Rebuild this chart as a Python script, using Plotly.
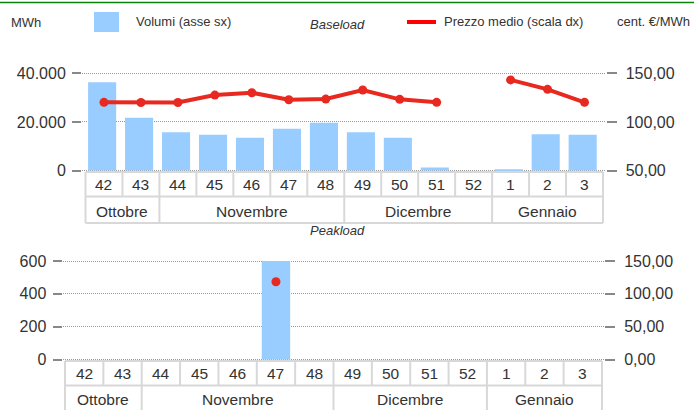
import plotly.graph_objects as go

# ---------------- data ----------------
weeks = ["42", "43", "44", "45", "46", "47", "48", "49", "50", "51", "52", "1", "2", "3"]
week_months = ["Ottobre", "Ottobre",
               "Novembre", "Novembre", "Novembre", "Novembre", "Novembre",
               "Dicembre", "Dicembre", "Dicembre", "Dicembre",
               "Gennaio", "Gennaio", "Gennaio"]
base_volume = [36300, 21700, 15750, 14700, 13450, 17150, 19700, 15750, 13450, 1250, 0, 300, 14900, 14700]
base_price = [120.1, 120.0, 120.0, 127.6, 130.0, 122.8, 123.5, 132.8, 123.2, 120.1, None, 143.2, 133.5, 120.1]
peak_volume = [None, None, None, None, None, 600, None, None, None, None, None, None, None, None]
peak_price = [None, None, None, None, None, 118.4, None, None, None, None, None, None, None, None]

# ---------------- styling helpers ----------------
W, H = 694, 410
FONT = "Liberation Sans, Arial, sans-serif"
TXT = "#333333"
BAR = "#99ccff"
LINE = "#e8291f"
BORDER = "#d8d8d8"


def px(x):
    return x / W


def py(y):
    return 1 - y / H


fig = go.Figure()

fig.add_trace(go.Bar(x=weeks, y=base_volume, xaxis="x", yaxis="y",
                     marker=dict(color=BAR, line=dict(width=0)),
                     width=0.76, offset=-0.43, showlegend=False,
                     name="Volumi (asse sx)"))
fig.add_trace(go.Scatter(x=weeks, y=base_price, xaxis="x", yaxis="y2",
                         mode="lines+markers", connectgaps=False,
                         line=dict(color=LINE, width=4),
                         marker=dict(size=9, color=LINE),
                         showlegend=False, name="Prezzo medio (scala dx)"))
fig.add_trace(go.Bar(x=weeks, y=peak_volume, xaxis="x2", yaxis="y3",
                     marker=dict(color=BAR, line=dict(width=0)),
                     width=0.74, showlegend=False, name="Volumi (asse sx)"))
fig.add_trace(go.Scatter(x=weeks, y=peak_price, xaxis="x2", yaxis="y4",
                         mode="markers", marker=dict(size=9, color=LINE),
                         showlegend=False, name="Prezzo medio (scala dx)"))

tickfont = dict(family=FONT, size=16, color=TXT)
cellfont = dict(family=FONT, size=15.5, color=TXT)
yleft = dict(ticks="outside", ticklen=9, tickwidth=2, tickcolor="#888888",
             showgrid=True, gridcolor="#999999", griddash="1px,1px", gridwidth=1,
             zeroline=False, showline=False, tickfont=tickfont, fixedrange=True,
             automargin=False, ticklabelstandoff=3)
yright = dict(ticks="outside", ticklen=10, tickwidth=2, tickcolor="#888888",
              showgrid=False, zeroline=False, showline=False, tickfont=tickfont,
              side="right", tickformat=",.2f", fixedrange=True, automargin=False,
              ticklabelstandoff=6)
xcommon = dict(type="category", showticklabels=False, showgrid=False,
               zeroline=False, showline=False, ticks="", fixedrange=True,
               automargin=False)

# panel geometry (pixels)
T_L, T_R, T_TBL_L, T_TBL_R = 82, 605.5, 85.5, 603
T_COL = (T_TBL_R - T_TBL_L) / 14
B_L, B_R, B_TBL_L, B_TBL_R = 62.5, 604, 65, 602
B_COL = (B_TBL_R - B_TBL_L) / 14

# vertical: value 0 / max pixel positions; domains padded so edge gridlines show
T_Y0, T_Y1 = 170.5, 73.3
B_Y0, B_Y1 = 359.5, 261.0
PAD = 3.0


def padded(lo, hi, p0, p1):
    per = (hi - lo) / (p0 - p1)
    return [lo - PAD * per, hi + PAD * per]


fig.update_layout(
    width=W, height=H, autosize=False, margin=dict(l=0, r=0, t=0, b=0, pad=0),
    paper_bgcolor="white", plot_bgcolor="white",
    separators=",.", bargap=0.24, showlegend=False,
    font=dict(family=FONT, color=TXT),
    xaxis=dict(xcommon, domain=[px(T_L), px(T_R)], anchor="y",
               range=[-0.5 - (T_TBL_L - T_L) / T_COL, 13.5 + (T_R - T_TBL_R) / T_COL]),
    yaxis=dict(yleft, domain=[py(T_Y0 + PAD), py(T_Y1 - PAD)], anchor="x",
               range=padded(0, 40000, T_Y0, T_Y1), tick0=0, dtick=20000,
               tickformat=",.0f"),
    yaxis2=dict(yright, overlaying="y", anchor="x",
                range=padded(50, 150, T_Y0, T_Y1), tick0=0, dtick=50),
    xaxis2=dict(xcommon, domain=[px(B_L), px(B_R)], anchor="y3",
                range=[-0.5 - (B_TBL_L - B_L) / B_COL, 13.5 + (B_R - B_TBL_R) / B_COL]),
    yaxis3=dict(yleft, domain=[py(B_Y0 + PAD), py(B_Y1 - PAD)], anchor="x2",
                range=padded(0, 600, B_Y0, B_Y1), tick0=0, dtick=200,
                tickformat=",.0f"),
    yaxis4=dict(yright, overlaying="y3", anchor="x2",
                range=padded(0, 150, B_Y0, B_Y1), tick0=0, dtick=50),
)

shapes = []
annotations = []


def table(xref, y_top, y_mid, y_bot, y_week, y_month):
    n = len(weeks)
    for yy in (y_top, y_mid, y_bot):
        shapes.append(dict(type="line", xref=xref, yref="paper",
                           x0=-0.5, x1=n - 0.5, y0=py(yy), y1=py(yy),
                           line=dict(color=BORDER, width=2)))
    for i in range(n + 1):
        full = i == 0 or i == n or week_months[i] != week_months[i - 1]
        shapes.append(dict(type="line", xref=xref, yref="paper",
                           x0=i - 0.5, x1=i - 0.5, y0=py(y_top),
                           y1=py(y_bot if full else y_mid),
                           line=dict(color=BORDER, width=2)))
    for i, w in enumerate(weeks):
        annotations.append(dict(xref=xref, yref="paper", x=i, y=py(y_week),
                                text=w, showarrow=False, xanchor="center",
                                yanchor="middle", font=cellfont))
    start = 0
    for i in range(1, n + 1):
        if i == n or week_months[i] != week_months[start]:
            annotations.append(dict(xref=xref, yref="paper", x=(start + i - 1) / 2,
                                    y=py(y_month), text=week_months[start],
                                    showarrow=False, xanchor="center",
                                    yanchor="middle", font=cellfont))
            start = i


table("x", 172, 196.5, 223, 185, 211.5)
table("x2", 361, 385.5, 412, 373.5, 399.5)

hdr = dict(family=FONT, size=13, color=TXT)
# header line and legend
shapes.append(dict(type="line", xref="paper", yref="paper", x0=0, x1=1,
                   y0=py(2.5), y1=py(2.5), line=dict(color="#0a840a", width=1.5)))
shapes.append(dict(type="rect", xref="paper", yref="paper", x0=px(94), x1=px(119),
                   y0=py(32), y1=py(12), fillcolor=BAR, line=dict(width=0)))
shapes.append(dict(type="line", xref="paper", yref="paper", x0=px(407), x1=px(436),
                   y0=py(22), y1=py(22), line=dict(color="#ff0000", width=4)))


def label(text, x, y, size=13):
    annotations.append(dict(xref="paper", yref="paper", x=px(x), y=py(y), text=text,
                            showarrow=False, xanchor="left", yanchor="middle",
                            font=dict(hdr, size=size)))


label("MWh", 9, 22)
label("Volumi (asse sx)", 134, 21.5)
label("<i>Baseload</i>", 308, 24.5)
label("Prezzo medio (scala dx)", 442, 21.5)
label("cent. €/MWh", 615, 21.5)
label("<i>Peakload</i>", 308, 231)

fig.update_layout(shapes=shapes, annotations=annotations)

post = ("document.documentElement.style.overflow='hidden';"
        "document.body.style.margin='0';document.body.style.overflow='hidden';"
        "var d=document.getElementById('{plot_id}');"
        "d.style.position='fixed';d.style.left='0px';d.style.top='0px';")
fig.write_html("out.html", post_script=post,
               config={"responsive": False, "displayModeBar": False})
